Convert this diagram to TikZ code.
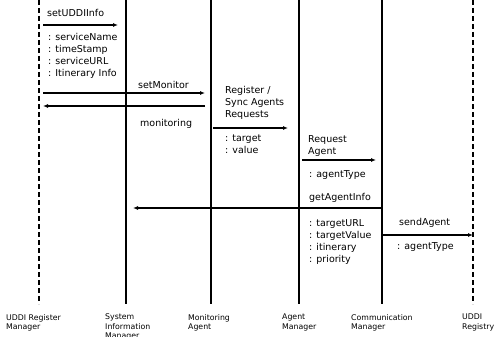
\documentclass[tikz,border=0pt]{standalone}
\usepackage{fontspec}
\setmainfont{DejaVu Sans}
\usepackage{tikz}
\usetikzlibrary{arrows.meta}

\begin{document}
\begin{tikzpicture}[
  x=1pt,y=-1pt,
  font=\fontsize{9.5}{12}\selectfont,
  >={Latex[length=5pt,width=4pt]},
  life/.style={line width=1.6pt},
  ext/.style={line width=1.6pt,dash pattern=on 5pt off 3pt},
  msg/.style={->,line width=1.5pt},
  txt/.style={inner sep=0pt,anchor=west},
  blk/.style={inner sep=0pt,anchor=north west,align=left},
  who/.style={inner sep=0pt,anchor=north west,align=left,font=\fontsize{7.8}{9.5}\selectfont}
]
\useasboundingbox (0,0) rectangle (495,337);
% lifelines
\coordinate (urmT) at (39,0);   \coordinate (urmB) at (39,304);
\coordinate (simT) at (126,0);  \coordinate (simB) at (126,304);
\coordinate (monT) at (211,0);  \coordinate (monB) at (211,304);
\coordinate (agmT) at (299,0);  \coordinate (agmB) at (299,304);
\coordinate (comT) at (382,0);  \coordinate (comB) at (382,304);
\coordinate (regT) at (473,0);  \coordinate (regB) at (473,304);
\draw[ext] (urmT) -- (urmB);
\draw[life] (simT) -- (simB);
\draw[life] (monT) -- (monB);
\draw[life] (agmT) -- (agmB);
\draw[life] (comT) -- (comB);
\draw[ext] (regT) -- (regB);
\node[who] (urm) at (6,314) {UDDI Register\\Manager};
\node[who] (sim) at (105,314) {System\\Information\\Manager};
\node[who] (mon) at (188,314) {Monitoring\\Agent};
\node[who] (agm) at (282,314) {Agent\\Manager};
\node[who] (com) at (351,314) {Communication\\Manager};
\node[who] (reg) at (462,314) {UDDI\\Registry};
% setUDDIInfo
\coordinate (s1) at (43,25); \coordinate (e1) at (118,25);
\node[txt] (setuddi) at (47,13) {setUDDIInfo};
\draw[msg] (s1) -- (e1);
\node[blk] (uddipar) at (48,33) {: serviceName\\: timeStamp\\: serviceURL\\: Itinerary Info};
% setMonitor / monitoring
\coordinate (s2) at (43,93); \coordinate (e2) at (205,93);
\node[txt] (setmon) at (138,85) {setMonitor};
\draw[msg] (s2) -- (e2);
\coordinate (s3) at (205,106); \coordinate (e3) at (43,106);
\draw[msg] (s3) -- (e3);
\node[txt] (moni) at (140,124) {monitoring};
% Register / Sync Agents Requests
\node[blk] (sync) at (225,86) {Register /\\Sync Agents\\Requests};
\coordinate (s4) at (213,128); \coordinate (e4) at (288,128);
\draw[msg] (s4) -- (e4);
\node[blk] (syncpar) at (225,135) {: target\\: value};
% Request Agent
\node[blk] (req) at (308,135) {Request\\Agent};
\coordinate (s5) at (302,160); \coordinate (e5) at (376,160);
\draw[msg] (s5) -- (e5);
\node[txt] (reqpar) at (309,175) {: agentType};
% getAgentInfo
\node[txt] (getinfo) at (309,198) {getAgentInfo};
\coordinate (s6) at (382,208); \coordinate (e6) at (133,208);
\draw[msg] (s6) -- (e6);
\node[blk] (infopar) at (309,219) {: targetURL\\: targetValue\\: itinerary\\: priority};
% sendAgent
\node[txt] (send) at (399,223) {sendAgent};
\coordinate (s7) at (383,235); \coordinate (e7) at (473,235);
\draw[msg] (s7) -- (e7);
\node[txt] (sendpar) at (397,247) {: agentType};
\end{tikzpicture}
\end{document}
